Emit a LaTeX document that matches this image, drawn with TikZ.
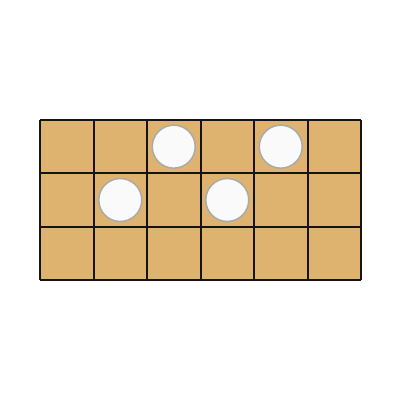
\documentclass[tikz,border=0pt]{standalone}
\usepackage{tikz}
\usetikzlibrary{positioning}
\definecolor{boardtan}{RGB}{222,179,112}
\definecolor{gridline}{RGB}{20,20,20}
\definecolor{stonefill}{RGB}{250,250,250}
\definecolor{stoneedge}{RGB}{170,170,170}
\tikzset{
    stone/.style={shape=circle,draw=stoneedge,fill=stonefill,line width=1.5pt,inner sep=0pt,minimum size=43pt},
}
\begin{document}
\begin{tikzpicture}[x=1pt,y=-1pt]
    \useasboundingbox (0,0) rectangle (402,402);
    \fill[white] (0,0) rectangle (402,402);

    % board
    \fill[boardtan] (40,120) rectangle (361,280);
    \foreach \i in {0,...,6} {
        \draw[gridline,line width=2pt] (40+\i*53.5,120) -- (40+\i*53.5,280);
    }
    \foreach \j in {0,...,3} {
        \draw[gridline,line width=2pt] (40,120+\j*53.333) -- (361,120+\j*53.333);
    }

    % stones
    \node[stone] (s02) at (173.75,146.67) {};
    \node[stone] (s04) at (280.75,146.67) {};
    \node[stone] (s11) at (120.25,200) {};
    \node[stone] (s13) at (227.25,200) {};

  \end{tikzpicture}
\end{document}
